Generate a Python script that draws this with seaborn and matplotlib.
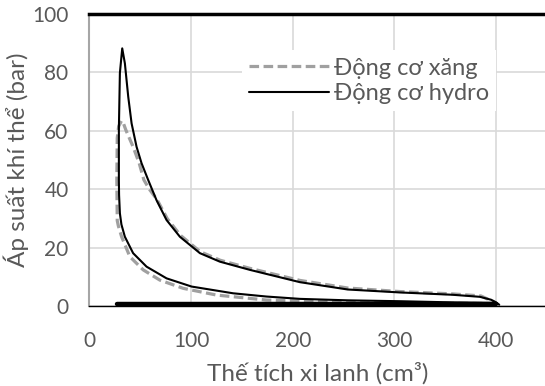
import seaborn as sns
import matplotlib.pyplot as plt
import pandas as pd

# cylinder volume (cm3) vs pressure (bar)
hydro_v = [400, 357, 305, 254, 207, 174, 141.4, 100.5, 75.9, 56.2, 43, 34.9, 31.5, 30, 29.2, 29, 29, 30, 32.3,
           34.9, 38.2, 41.5, 46.4, 51.3, 57.8, 66, 75.9, 89, 108.7, 128.3, 157.8, 207, 254, 305, 357,
           384, 395, 400, 403]
hydro_p = [1.2, 1.4, 1.8, 2.1, 2.6, 3.4, 4.5, 6.8, 9.6, 13.6, 18.2, 23.8, 28, 31.8, 38, 43, 60.5, 79.7, 88.1,
           83, 71.6, 62.5, 54.5, 48.9, 43.2, 36.3, 29.5, 23.8, 18.2, 15.3, 12.5, 8.3, 5.8, 4.8, 4.0,
           3.3, 2.3, 1.4, 0.6]

xang_v = [400, 300, 254, 174, 125, 92.2, 69.3, 52.9, 39.8, 31.7, 28.5, 27.4, 27, 27.4, 28.8, 31.6,
          33.5, 35.9, 43, 49, 53.6, 59, 66.5, 76.5, 89.5, 109, 128.5, 158, 207, 254, 305, 357, 385, 398]
xang_p = [1.0, 1.2, 1.5, 2.2, 3.9, 6.2, 9.0, 12.5, 17, 23.8, 27.5, 29.3, 43, 57.5, 61.5, 63.4,
          62.5, 60.2, 54.5, 48.9, 43.2, 40, 36.5, 30, 24.3, 18.7, 15.8, 13, 8.9, 6.3, 5.1, 4.3, 3.6, 1.5]

# intake / exhaust stroke
gas_v = [27, 400]
gas_p = [1.0, 1.0]

df_h = pd.DataFrame({'V': hydro_v, 'P': hydro_p})
df_x = pd.DataFrame({'V': xang_v, 'P': xang_p})
df_g = pd.DataFrame({'V': gas_v, 'P': gas_p})

sns.set_style('white')
plt.rcParams['font.family'] = ['Lato', 'DejaVu Sans']

fig = plt.figure(figsize=(5.45, 3.86), dpi=100)
ax = fig.add_axes([0.164, 0.206, 0.836, 0.759])

grey_txt = '#595959'

sns.lineplot(data=df_x, x='V', y='P', sort=False, estimator=None, ax=ax,
             color='#a0a0a0', lw=2.3, label='Động cơ xăng')
ax.lines[-1].set_dashes((3, 1.4))
sns.lineplot(data=df_h, x='V', y='P', sort=False, estimator=None, ax=ax,
             color='black', lw=1.5, label='Động cơ hydro')
sns.lineplot(data=df_g, x='V', y='P', sort=False, estimator=None, ax=ax,
             color='black', lw=3.2, legend=False)

ax.set_xlim(0, 448)
ax.set_ylim(0, 100)
ax.set_xticks([0, 100, 200, 300, 400])
ax.set_yticks([0, 20, 40, 60, 80, 100])
ax.grid(True, color='#d9d9d9', lw=1.2)
ax.set_axisbelow(True)

ax.spines['right'].set_visible(False)
ax.spines['top'].set_color('black')
ax.spines['top'].set_linewidth(2.5)
ax.spines['left'].set_color('#a6a6a6')
ax.spines['left'].set_linewidth(1.5)
ax.spines['bottom'].set_color('black')
ax.spines['bottom'].set_linewidth(1.0)

ax.tick_params(axis='both', length=0, labelsize=15, labelcolor=grey_txt)
ax.tick_params(axis='y', pad=15)
ax.tick_params(axis='x', pad=18)

ax.set_xlabel('Thế tích xi lanh (cm³)', fontsize=17.5, color=grey_txt, labelpad=8)
ax.set_ylabel('Áp suất khí thể (bar)', fontsize=17.5, color=grey_txt, labelpad=2)

leg = ax.legend(loc='center', bbox_to_anchor=(0.613, 0.77), fontsize=17,
                handlelength=3.4, handletextpad=0.2, labelspacing=0.2,
                frameon=True, fancybox=False, borderpad=0.3)
leg.get_frame().set_facecolor('white')
leg.get_frame().set_edgecolor('none')
leg.get_frame().set_alpha(1)
for t in leg.get_texts():
    t.set_color(grey_txt)
leg.get_lines()[0].set_dashes((3, 1.4))

plt.savefig('out.png', dpi=100)
